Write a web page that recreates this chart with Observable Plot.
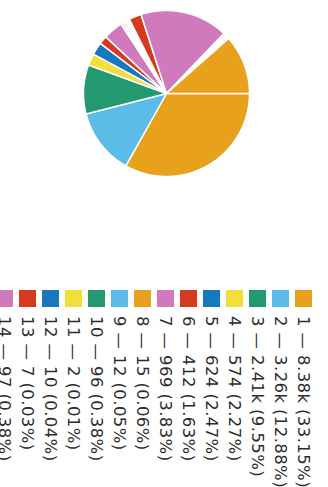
<!DOCTYPE html>
<html><head><meta charset="utf-8">
<script src="https://cdn.jsdelivr.net/npm/d3@7"></script>
<script src="https://cdn.jsdelivr.net/npm/@observablehq/plot@0.6"></script>
<style>
html,body{margin:0;padding:0;background:#fff;overflow:hidden;width:328px;height:487px;}
#frame{position:absolute;left:0;top:0;width:487px;height:328px;transform-origin:0 0;transform:translate(328px,0) rotate(90deg);overflow:hidden;background:#fff;}
#pie{position:absolute;left:0;top:0;}
#legend{position:absolute;left:290px;top:13px;}
#legend .lg-swatches{font:16.5px "DejaVu Sans",sans-serif !important;letter-spacing:0.4px;color:#2b2b2b !important;margin:0 !important;min-height:0 !important;}
#legend .lg-swatch{height:23px;padding-bottom:0 !important;margin:0 !important;}
#legend .lg-swatch svg{margin-right:9px !important;}
</style></head><body><div id="frame"><div id="pie"></div><div id="legend"></div></div>
<script>
const labels = ["1","2","3","4","5","6","7","8","9","10","11","12","13","14","15","16","17","18","19","20","21","22","23","24","25","26","27","28","29"];
const values = [8380,3256,2414,574,624,412,969,15,12,96,2,10,7,97,52,35,64,27,52,610,4330,28,86,35,22,58,41,60,2912];
const palette = ["#E8A11C","#5BBCE8","#23996F","#F2DF3A","#1878BE","#D63A1E","#D07ABD"];

const total = d3.sum(values);
const fmtValue = d3.format(".3~s");
const arcs = d3.pie().sort(null).value((d, i) => values[i])(labels);
const pts = [];
arcs.forEach((a, i) => {
  const lab = labels[i];
  pts.push({label: lab, x: 0, y: 0});
  const n = Math.max(2, Math.ceil((a.endAngle - a.startAngle) / 0.005));
  for (let k = 0; k <= n; k++) {
    const t = a.startAngle + (a.endAngle - a.startAngle) * k / n;
    pts.push({label: lab, x: Math.sin(t), y: Math.cos(t)});
  }
  pts.push({label: lab, x: 0, y: 0});
});

const pie = Plot.plot({
  width: 200, height: 328,
  marginLeft: 10, marginRight: 24, marginTop: 78, marginBottom: 84,
  x: {domain: [-1, 1], axis: null},
  y: {domain: [-1, 1], axis: null},
  color: {type: "ordinal", domain: labels, range: labels.map((_, i) => palette[i % palette.length])},
  marks: [
    Plot.line(pts, {x: "x", y: "y", z: "label", fill: "label", stroke: "white", strokeWidth: 1.5, strokeLinejoin: "round"})
  ]
});
document.getElementById("pie").appendChild(pie);

const leg = pie.legend("color", {
  columns: 1,
  swatchSize: 17,
  className: "lg",
  tickFormat: d => {
    const i = labels.indexOf(d);
    return `${d} — ${fmtValue(values[i])} (${(values[i] / total * 100).toFixed(2)}%)`;
  }
});
document.getElementById("legend").appendChild(leg);
</script></body></html>
